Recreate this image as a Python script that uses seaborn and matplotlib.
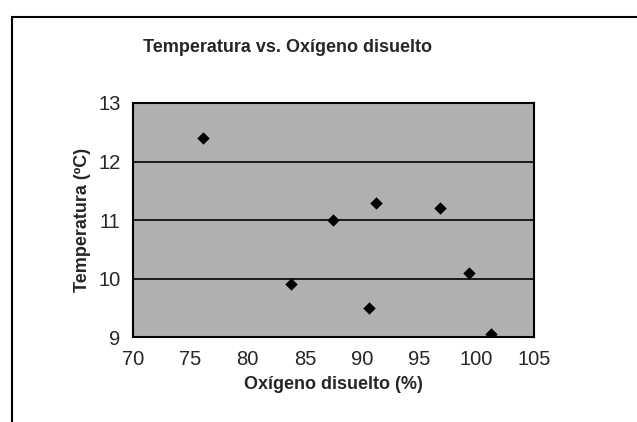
import matplotlib.pyplot as plt
import seaborn as sns
import pandas as pd
from matplotlib.patches import Rectangle

# valores
oxigeno = [76.1, 83.8, 87.5, 90.6, 91.2, 96.8, 99.3, 101.3]
temperatura = [12.4, 9.9, 11.0, 9.5, 11.3, 11.2, 10.1, 9.05]
xticks = [70, 75, 80, 85, 90, 95, 100, 105]
yticks = [9, 10, 11, 12, 13]

df = pd.DataFrame({"oxigeno": oxigeno, "temperatura": temperatura})

sns.set_style("white")
plt.rcParams['font.family'] = ['Liberation Sans', 'DejaVu Sans']

fig = plt.figure(figsize=(6.37, 4.22), dpi=100)
ax = fig.add_axes([0.209, 0.201, 0.629, 0.555])
ax.set_facecolor('#b0b0b0')

sns.scatterplot(data=df, x="oxigeno", y="temperatura", marker='D', s=40,
                color='black', edgecolor='black', linewidth=0, ax=ax, zorder=3)

ax.set_xlim(70, 105)
ax.set_ylim(9, 13)
ax.set_xticks(xticks)
ax.set_yticks(yticks)
for y in yticks[1:-1]:
    ax.axhline(y, color='black', lw=1.2, zorder=2)

for s in ax.spines.values():
    s.set_color('black')
    s.set_linewidth(1.5)
ax.tick_params(axis='both', direction='out', length=5, width=1.2, color='black',
               labelsize=14.5, pad=4)

ax.set_xlabel("Oxígeno disuelto (%)", fontsize=13, fontweight='bold', labelpad=5)
ax.set_ylabel("Temperatura (ºC)", fontsize=13, fontweight='bold', labelpad=5)
fig.text(0.452, 0.888, "Temperatura vs. Oxígeno disuelto", ha='center', va='center',
         fontsize=13, fontweight='bold')

# marco del area del grafico
fig.add_artist(Rectangle((0.019, -0.1), 1.1, 1.06, transform=fig.transFigure,
                         fill=False, edgecolor='black', lw=1.5))

fig.savefig("out.png", dpi=100)
